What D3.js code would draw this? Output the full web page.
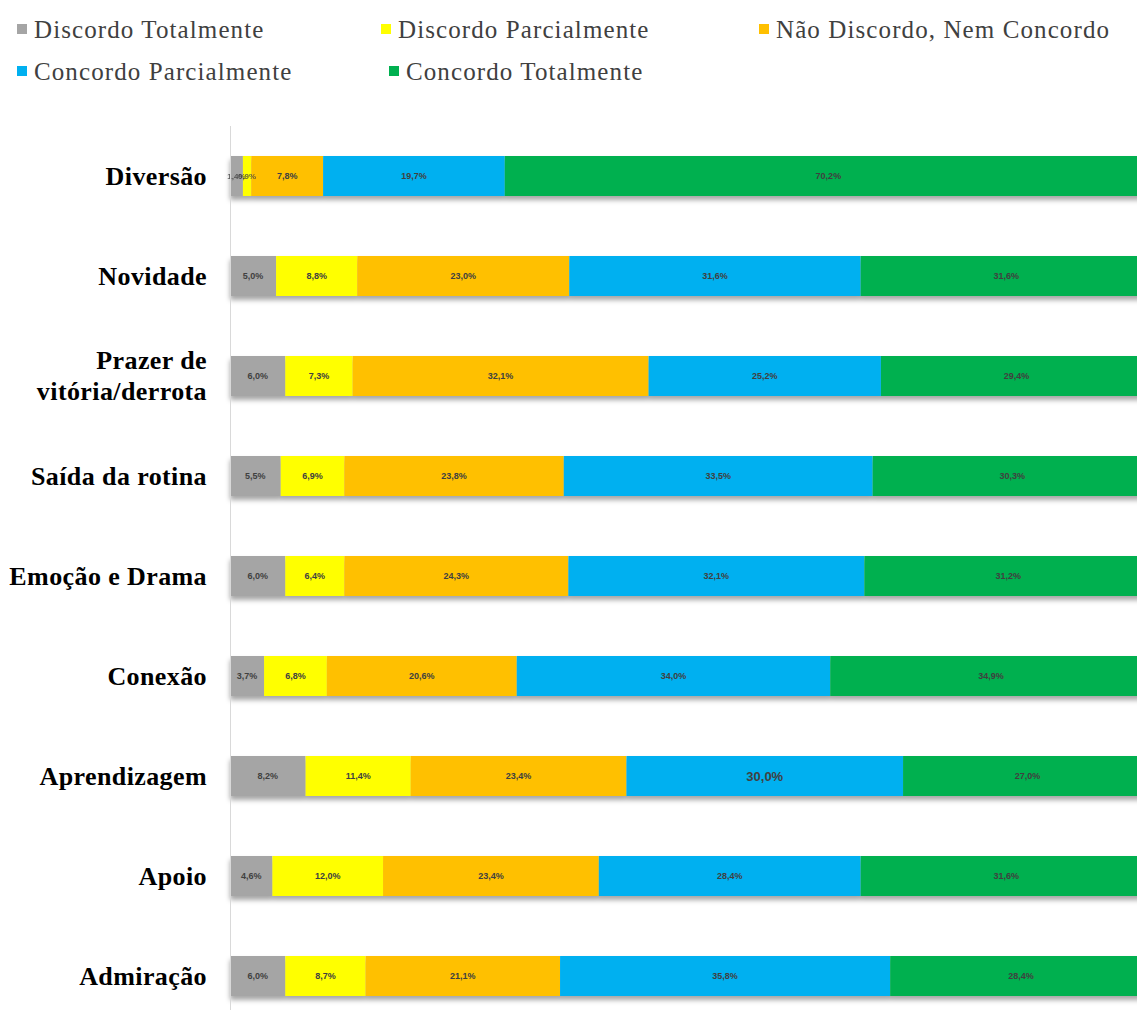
<!DOCTYPE html>
<html>
<head>
<meta charset="utf-8">
<script src="https://cdn.jsdelivr.net/npm/d3@7"></script>
<style>
  body { margin: 0; background: #fff; }
  svg { display: block; }
</style>
</head>
<body>
<div id="chart"></div>
<script>
// categories, top to bottom
const categories = ['Diversão', 'Novidade', 'Prazer de vitória/derrota', 'Saída da rotina',
  'Emoção e Drama', 'Conexão', 'Aprendizagem', 'Apoio', 'Admiração'];

const seriesNames = ['Discordo Totalmente', 'Discordo Parcialmente', 'Não Discordo, Nem Concordo',
  'Concordo Parcialmente', 'Concordo Totalmente'];

const seriesColors = ['#A5A5A5', '#FFFF00', '#FFC000', '#00B0F0', '#00B050'];

// percentages per series, in category order
const discordoTotal   = [1.4, 5.0, 6.0, 5.5, 6.0, 3.7, 8.2, 4.6, 6.0];
const discordoParcial = [0.9, 8.8, 7.3, 6.9, 6.4, 6.8, 11.4, 12.0, 8.7];
const neutro          = [7.8, 23.0, 32.1, 23.8, 24.3, 20.6, 23.4, 23.4, 21.1];
const concordoParcial = [19.7, 31.6, 25.2, 33.5, 32.1, 34.0, 30.0, 28.4, 35.8];
const concordoTotal   = [70.2, 31.6, 29.4, 30.3, 31.2, 34.9, 27.0, 31.6, 28.4];

const seriesValues = [discordoTotal, discordoParcial, neutro, concordoParcial, concordoTotal];

const W = 1137, H = 1010;
const svg = d3.select('#chart').append('svg')
    .attr('width', W).attr('height', H);

const defs = svg.append('defs');
const shadow = defs.append('filter').attr('id', 'shadow')
    .attr('x', '-5%').attr('y', '-20%').attr('width', '110%').attr('height', '160%');
shadow.append('feDropShadow')
    .attr('dx', 0).attr('dy', 4).attr('stdDeviation', 2.5)
    .attr('flood-color', '#000').attr('flood-opacity', 0.35);

const x = d3.scaleLinear().domain([0, 100]).range([230, 1152]);
const y = d3.scaleBand().domain(categories).range([126, 1026])
    .paddingInner(0.6).paddingOuter(0.3);

// build stacked data
const rows = categories.map((c, i) => {
    const r = { category: c };
    seriesNames.forEach((s, j) => { r[s] = seriesValues[j][i]; });
    return r;
});
const stacked = d3.stack().keys(seriesNames)(rows);

const barsG = svg.append('g');
categories.forEach((c, i) => {
    const g = barsG.append('g').attr('filter', 'url(#shadow)');
    stacked.forEach((layer, j) => {
        const d = layer[i];
        g.append('rect')
            .attr('x', x(d[0]))
            .attr('y', y(c))
            .attr('width', x(d[1]) - x(d[0]))
            .attr('height', y.bandwidth())
            .attr('fill', seriesColors[j]);
    });
});

// value labels
const fmt = v => v.toFixed(1).replace('.', ',') + '%';
const labelsG = svg.append('g');
stacked.forEach((layer, j) => {
    layer.forEach((d, i) => {
        const c = categories[i];
        const big = (c === 'Aprendizagem' && j === 3);
        const tiny = (x(d[1]) - x(d[0])) < 16;
        labelsG.append('text')
            .attr('x', (x(d[0]) + x(d[1])) / 2)
            .attr('y', y(c) + y.bandwidth() / 2)
            .attr('dy', '0.35em')
            .attr('text-anchor', 'middle')
            .attr('font-family', 'Liberation Sans, Arial, sans-serif')
            .attr('font-size', big ? 13 : (tiny ? 8 : 9))
            .attr('font-weight', 'bold')
            .attr('fill', '#404040')
            .attr('opacity', tiny ? 0.8 : 1)
            .text(fmt(d.data[seriesNames[j]]));
    });
});

// axis line
svg.append('line')
    .attr('x1', 230.5).attr('x2', 230.5)
    .attr('y1', 126).attr('y2', H)
    .attr('stroke', '#d9d9d9').attr('stroke-width', 1);

// category labels
const catG = svg.append('g')
    .attr('font-family', 'Liberation Serif, Times New Roman, serif')
    .attr('font-size', 26).attr('font-weight', 'bold')
    .attr('letter-spacing', 0.4).attr('fill', '#000');
categories.forEach(c => {
    const cy = y(c) + y.bandwidth() / 2;
    const t = catG.append('text')
        .attr('x', 207).attr('y', cy)
        .attr('text-anchor', 'end');
    if (c === 'Prazer de vitória/derrota') {
        t.append('tspan').attr('x', 207).attr('dy', '-0.27em').text('Prazer de');
        t.append('tspan').attr('x', 207).attr('dy', '1.2em').text('vitória/derrota');
    } else {
        t.attr('dy', '0.35em').text(c);
    }
});

// legend
const legendPos = [
    { x: 22, y: 29 }, { x: 386, y: 29 }, { x: 764, y: 29 },
    { x: 22, y: 71 }, { x: 394, y: 71 }
];
const legendG = svg.append('g')
    .attr('font-family', 'Liberation Serif, Times New Roman, serif')
    .attr('font-size', 25).attr('letter-spacing', 1.1).attr('fill', '#404040');
seriesNames.forEach((s, j) => {
    const p = legendPos[j];
    legendG.append('rect')
        .attr('x', p.x - 5).attr('y', p.y - 5)
        .attr('width', 10).attr('height', 10)
        .attr('fill', seriesColors[j]);
    legendG.append('text')
        .attr('x', p.x + 12).attr('y', p.y)
        .attr('dy', '0.35em')
        .text(s);
});
</script>
</body>
</html>
